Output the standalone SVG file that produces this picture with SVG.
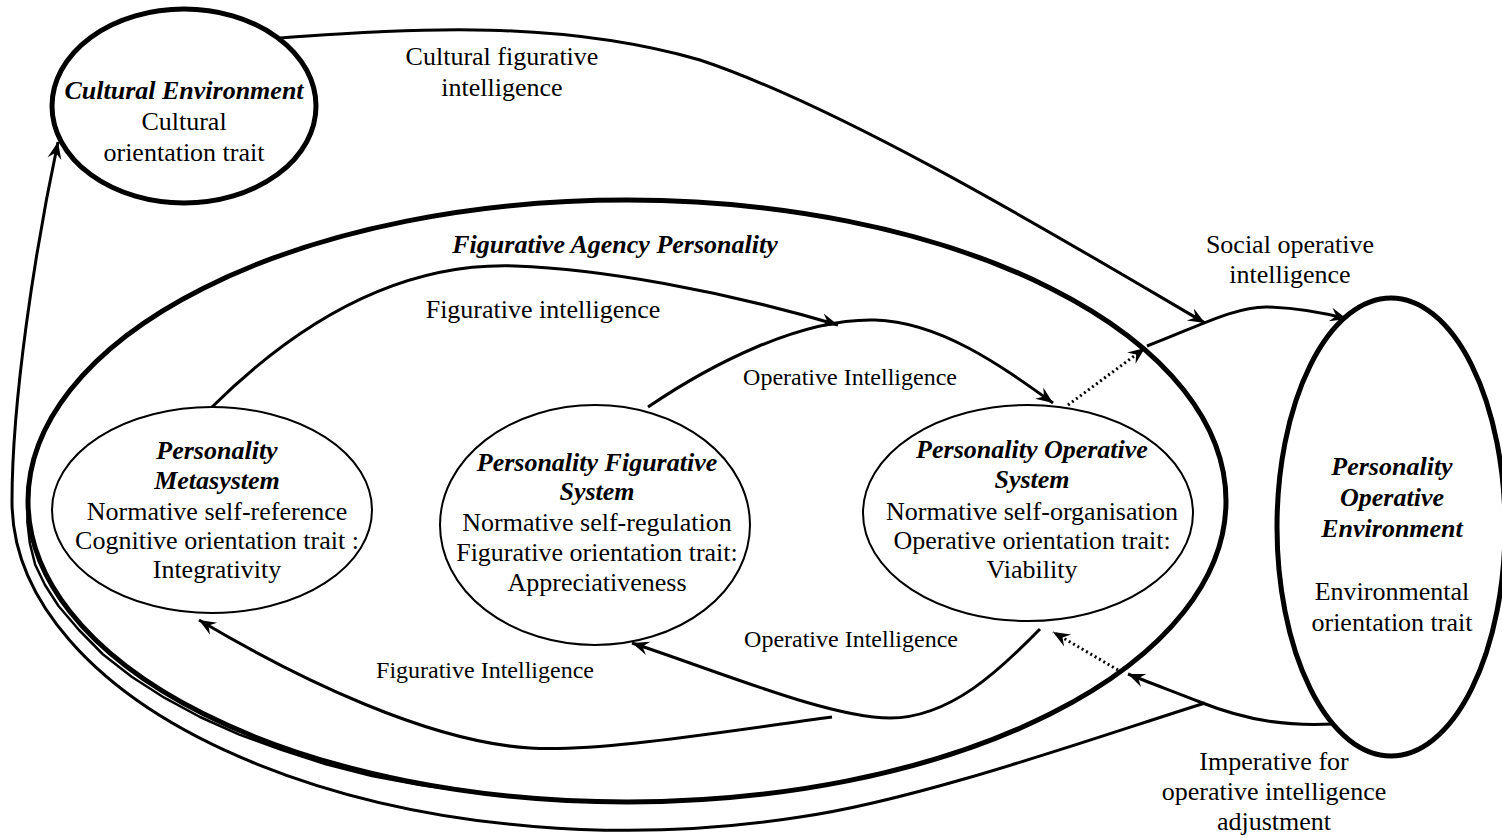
<svg xmlns="http://www.w3.org/2000/svg" width="1502" height="838" viewBox="0 0 1502 838">
<defs>
<style>
text{font-family:"Liberation Serif","Times New Roman",serif;fill:#000;text-anchor:middle}
.t26{font-size:26px}
.t24{font-size:24px}
.bi{font-weight:bold;font-style:italic}
.thick{fill:#fff;stroke:#000;stroke-width:5}
.thin{fill:#fff;stroke:#000;stroke-width:2}
.con{fill:none;stroke:#000;stroke-width:3}
.loop{fill:none;stroke:#000;stroke-width:3}
.dot{fill:none;stroke:#000;stroke-width:3;stroke-dasharray:2 3}
</style>
<marker id="arr" viewBox="-18 -8 19 16" refX="0" refY="0" markerWidth="19" markerHeight="16" markerUnits="userSpaceOnUse" orient="auto">
<path d="M0,0 L-17,-7 L-11,0 L-17,7 Z" fill="#000"/>
</marker>
</defs>
<rect width="1502" height="838" fill="#fff"/>

<g id="agency">
<ellipse class="thick" cx="627" cy="501" rx="599" ry="301"/>
<text class="t26 bi" x="615" y="253">Figurative Agency Personality</text>
</g>

<g id="connectors">
<path class="loop" d="M1205,703 C1100,736 920,800 800,817 A615,329 0 0,1 12,501 C12,400 35,250 58,142" marker-end="url(#arr)"/>
<polyline fill="none" stroke="#000" stroke-width="2.5" stroke-linejoin="round" points="28,501 27.4,522 29.9,543.5 35.2,564.8 45,585 58.5,606 79,630 103.1,654.5 132,677 164.3,697.7 200,717 239.4,734.6 282,750 326,764.3 372,776 421.6,785.3 472,792 523,797.4"/>
<path class="con" d="M280,38 C420,28 560,20 700,60 C850,110 1080,250 1205,323" marker-end="url(#arr)"/>
<path class="con" d="M1147,346 C1195,328 1235,306 1268,307 C1295,308 1325,313 1347,319" marker-end="url(#arr)"/>
<path class="dot" d="M1068,405 L1145,348" marker-end="url(#arr)"/>
<path class="con" d="M212,407 C300,320 400,262 515,266 C600,269 720,290 838,325" marker-end="url(#arr)"/>
<path class="con" d="M648,407 C710,365 800,318 875,320 C940,322 1000,365 1053,403" marker-end="url(#arr)"/>
<path class="con" d="M1040,629 C1000,670 950,718 890,718 C830,718 720,672 632,643" marker-end="url(#arr)"/>
<path class="con" d="M832,717 C720,732 600,752 530,748 C430,742 300,680 199,620" marker-end="url(#arr)"/>
<path class="con" d="M1333,724 C1290,726 1250,722 1200,702 C1175,692 1150,683 1128,674" marker-end="url(#arr)"/>
<path class="dot" d="M1118,670 L1053,632" marker-end="url(#arr)"/>
<text class="t26" x="502" y="65">Cultural figurative</text>
<text class="t26" x="502" y="96">intelligence</text>
<text class="t26" x="543" y="318">Figurative intelligence</text>
<text class="t24" x="850" y="385">Operative Intelligence</text>
<text class="t24" x="851" y="647">Operative Intelligence</text>
<text class="t24" x="485" y="678">Figurative Intelligence</text>
<text class="t26" x="1290" y="253">Social operative</text>
<text class="t26" x="1290" y="283">intelligence</text>
<text class="t26" x="1274" y="770">Imperative for</text>
<text class="t26" x="1274" y="800">operative intelligence</text>
<text class="t26" x="1274" y="830">adjustment</text>
</g>

<g id="cultural-env">
<ellipse class="thick" cx="184" cy="106" rx="132" ry="97"/>
<text class="t26 bi" x="184" y="99">Cultural Environment</text>
<text class="t26" x="184" y="130">Cultural</text>
<text class="t26" x="184" y="161">orientation trait</text>
</g>

<g id="metasystem">
<ellipse class="thin" cx="212" cy="510" rx="160" ry="103"/>
<text class="t26 bi" x="217" y="459">Personality</text>
<text class="t26 bi" x="217" y="489">Metasystem</text>
<text class="t26" x="217" y="520">Normative self-reference</text>
<text class="t26" x="217" y="549">Cognitive orientation trait :</text>
<text class="t26" x="217" y="578">Integrativity</text>
</g>

<g id="figurative-system">
<ellipse class="thin" cx="595" cy="525" rx="155" ry="120"/>
<text class="t26 bi" x="597" y="471">Personality Figurative</text>
<text class="t26 bi" x="597" y="500">System</text>
<text class="t26" x="597" y="531">Normative self-regulation</text>
<text class="t26" x="597" y="561">Figurative orientation trait:</text>
<text class="t26" x="597" y="591">Appreciativeness</text>
</g>

<g id="operative-system">
<ellipse class="thin" cx="1028" cy="513" rx="165" ry="108"/>
<text class="t26 bi" x="1032" y="458">Personality Operative</text>
<text class="t26 bi" x="1032" y="488">System</text>
<text class="t26" x="1032" y="520">Normative self-organisation</text>
<text class="t26" x="1032" y="549">Operative orientation trait:</text>
<text class="t26" x="1032" y="578">Viability</text>
</g>

<g id="operative-env">
<ellipse class="thick" cx="1391" cy="527" rx="114" ry="229"/>
<text class="t26 bi" x="1392" y="475">Personality</text>
<text class="t26 bi" x="1392" y="506">Operative</text>
<text class="t26 bi" x="1392" y="537">Environment</text>
<text class="t26" x="1392" y="600">Environmental</text>
<text class="t26" x="1392" y="631">orientation trait</text>
</g>
</svg>
